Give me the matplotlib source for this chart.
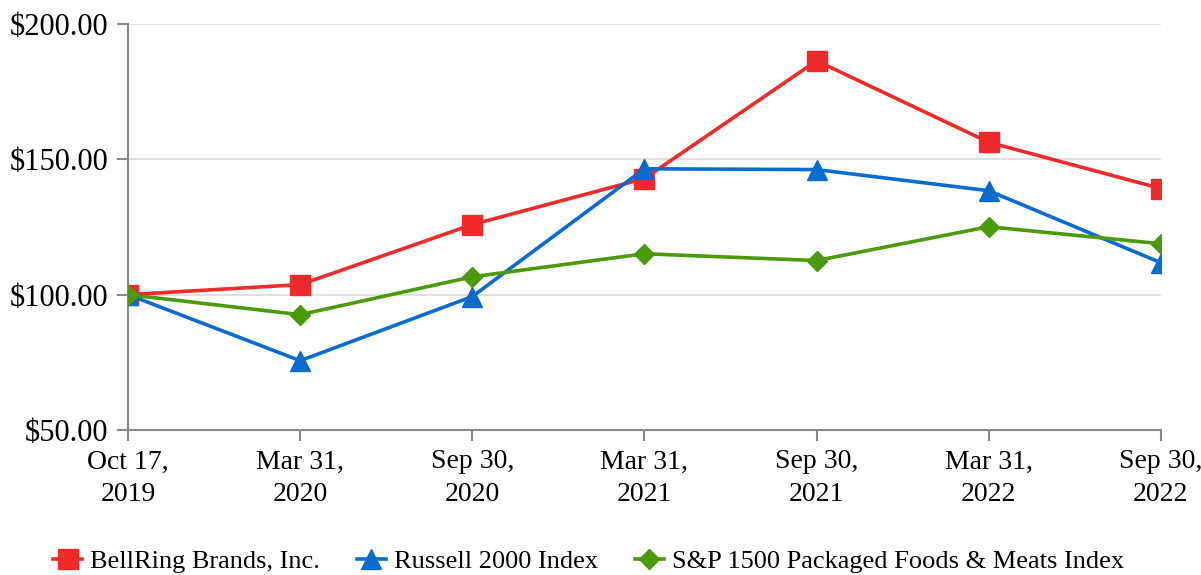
import numpy as np
import matplotlib.pyplot as plt

plt.rcParams['font.family'] = ['Liberation Serif', 'DejaVu Serif']

dates = ["Oct 17,\n2019", "Mar 31,\n2020", "Sep 30,\n2020", "Mar 31,\n2021",
         "Sep 30,\n2021", "Mar 31,\n2022", "Sep 30,\n2022"]
bellring = [100.0, 103.7, 125.9, 142.9, 186.4, 156.3, 139.2]
russell = [100.0, 75.6, 99.3, 146.5, 146.2, 138.4, 111.8]
sp1500 = [100.0, 92.6, 106.6, 115.1, 112.6, 125.1, 118.8]

fig = plt.figure(figsize=(12.01, 5.75), dpi=100)
ax = fig.add_axes([0.1066, 0.2522, 0.86, 0.7061])

x = np.arange(len(dates))
ax.plot(x, bellring, color="#EE2A2A", lw=2.6, marker="s", ms=14, label="BellRing Brands, Inc.", zorder=3)
ax.plot(x, russell, color="#0A6BCF", lw=2.6, marker="^", ms=15, label="Russell 2000 Index", zorder=4)
ax.plot(x, sp1500, color="#4A9A0A", lw=2.6, marker="D", ms=10, label="S&P 1500 Packaged Foods & Meats Index", zorder=5)

ax.set_xlim(0, len(dates) - 1)
ax.set_ylim(50, 200)
ax.set_yticks([50, 100, 150, 200])
ax.set_yticklabels(["$%.2f" % v for v in [50, 100, 150, 200]], fontsize=22)
ax.set_xticks(x)
ax.set_xticklabels(dates, fontsize=20, linespacing=1.4)
ax.tick_params(length=8, width=1.5, color="#888888")
ax.tick_params(axis="x", pad=6)
ax.tick_params(axis="y", pad=6)
ax.grid(axis="y", color="#DDDDDD", lw=1.3)
ax.set_axisbelow(True)
for s in ["top", "right"]:
    ax.spines[s].set_visible(False)
for s in ["left", "bottom"]:
    ax.spines[s].set_color("#888888")
    ax.spines[s].set_linewidth(1.5)

fig.legend(loc="lower center", bbox_to_anchor=(0.49, -0.038), ncol=3, frameon=False,
           fontsize=19, handlelength=1.1, columnspacing=1.4, handletextpad=0.3)

fig.savefig("out.png", dpi=100)
